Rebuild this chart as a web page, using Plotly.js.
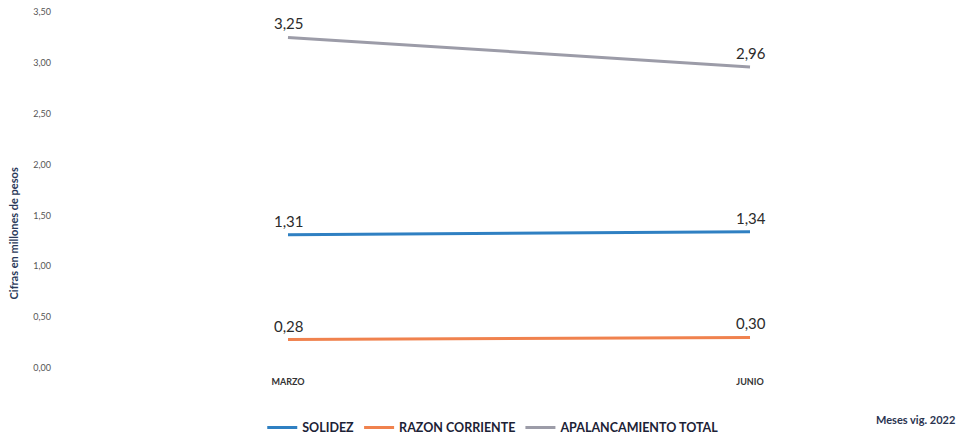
<!DOCTYPE html>
<html>
<head>
<meta charset="utf-8">
<script src="https://cdn.plot.ly/plotly-3.0.1.min.js"></script>
<style>html,body{margin:0;padding:0;background:#fff;}#chart{width:957px;height:441px;}</style>
</head>
<body>
<div id="chart"></div>
<script>
const months = ["MARZO", "JUNIO"];
const solidez = [1.31, 1.34];
const razonCorriente = [0.28, 0.30];
const apalancamiento = [3.25, 2.96];
const seriesNames = ["SOLIDEZ", "RAZON CORRIENTE", "APALANCAMIENTO TOTAL"];
const yTicks = [0, 0.5, 1, 1.5, 2, 2.5, 3, 3.5];

const fmt = v => v.toFixed(2).replace(".", ",");
const seriesList = [
  {name: seriesNames[0], y: solidez, color: "#2f80c2"},
  {name: seriesNames[1], y: razonCorriente, color: "#f0824e"},
  {name: seriesNames[2], y: apalancamiento, color: "#9c9ca8"}
];
const data = seriesList.map(s => ({
  x: months, y: s.y, name: s.name, type: "scatter", mode: "lines",
  line: {color: s.color, width: 3}, hoverinfo: "skip"
}));
const labelAnns = [];
seriesList.forEach(s => {
  s.y.forEach((v, i) => {
    labelAnns.push({
      text: fmt(v), x: months[i], y: v, xref: "x", yref: "y",
      xanchor: "center", yanchor: "middle", yshift: 14, xshift: 1, showarrow: false,
      font: {family: "Lato, 'Open Sans', sans-serif", size: 15, color: "#2b2b2b"}
    });
  });
});

const layout = {
  width: 957, height: 441,
  margin: {l: 60, r: 0, t: 12, b: 73, autoexpand: false},
  paper_bgcolor: "#fff", plot_bgcolor: "#fff",
  separators: ",.",
  font: {family: "Lato, 'Open Sans', sans-serif"},
  showlegend: true,
  legend: {orientation: "h", x: 0.483, xanchor: "center", yref: "container", y: 0.03, yanchor: "middle",
           font: {size: 12.5, color: "#1c2236", weight: "bold"}, itemwidth: 30, tracegroupgap: 0},
  xaxis: {type: "category", range: [-0.4935, 1.448], showgrid: false, zeroline: false,
          showline: false, ticks: "", ticklabelstandoff: 7,
          tickfont: {size: 9, color: "#333", weight: "bold"}},
  yaxis: {range: [0, 3.5], tickvals: yTicks, tickformat: ".2f", showgrid: false,
          zeroline: false, showline: false, ticks: "", ticklabelstandoff: 8,
          tickfont: {size: 9, color: "#555"}},
  annotations: labelAnns.concat([
    {text: "Cifras en millones de pesos", textangle: -90, xref: "paper", yref: "paper",
     x: -0.052, y: 0.379, xanchor: "center", yanchor: "middle", showarrow: false,
     font: {size: 11, color: "#2a3a5a", weight: "bold"}},
    {text: "Meses vig. 2022", xref: "paper", yref: "paper", x: 1.0, y: -0.146,
     xanchor: "right", yanchor: "middle", showarrow: false,
     font: {size: 11, color: "#2a3450", weight: "bold"}}
  ])
};
Plotly.newPlot("chart", data, layout, {displayModeBar: false, staticPlot: true});
</script>
</body>
</html>
